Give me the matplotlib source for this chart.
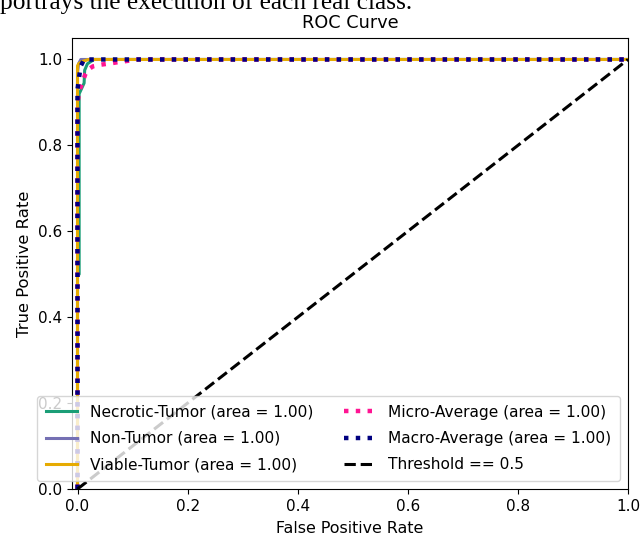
import matplotlib
matplotlib.use("Agg")
import matplotlib.pyplot as plt

# Per-class ROC points (false positive rate, true positive rate)
necrotic_fpr = [0.0, 0.0, 0.003, 0.003, 0.012, 0.013, 0.018, 0.03, 1.0]
necrotic_tpr = [0.0, 0.5, 0.5, 0.92, 0.945, 0.975, 0.99, 1.0, 1.0]

non_tumor_fpr = [0.0, 0.0, 0.002, 0.006, 1.0]
non_tumor_tpr = [0.0, 0.97, 0.99, 1.0, 1.0]

viable_fpr = [0.0, 0.0, 0.002, 0.008, 0.02, 1.0]
viable_tpr = [0.0, 0.985, 0.99, 0.995, 1.0, 1.0]

micro_fpr = [0.0, 0.0, 0.004, 0.009, 0.014, 0.02, 0.028, 0.043, 0.06, 0.075, 0.11, 1.0]
micro_tpr = [0.0, 0.9, 0.93, 0.946, 0.965, 0.977, 0.984, 0.988, 0.991, 0.994, 1.0, 1.0]

macro_fpr = [0.0, 0.0, 0.003, 0.006, 0.012, 1.0]
macro_tpr = [0.0, 0.93, 0.96, 0.985, 1.0, 1.0]

class_names = ["Necrotic-Tumor", "Non-Tumor", "Viable-Tumor"]
class_auc = [1.00, 1.00, 1.00]
micro_auc = 1.00
macro_auc = 1.00
class_colors = ["#1b9e77", "#7570b3", "#e6ab02"]

fig = plt.figure(figsize=(6.41, 5.39), dpi=100)
ax = fig.add_axes([72 / 641, 1 - 489 / 539, 556 / 641, 451 / 539])

fig.text(0.0, 1 - 8.5 / 539, "portrays the execution of each real class.",
         family="Liberation Serif", fontsize=18.3, va="baseline", ha="left")

curves = [(necrotic_fpr, necrotic_tpr), (non_tumor_fpr, non_tumor_tpr),
          (viable_fpr, viable_tpr)]
for (fpr, tpr), name, auc, color in zip(curves, class_names, class_auc, class_colors):
    ax.plot(fpr, tpr, color=color, lw=2.2, label=f"{name} (area = {auc:.2f})")

ax.plot(micro_fpr, micro_tpr, color="deeppink", linestyle=":", lw=3.2,
        label=f"Micro-Average (area = {micro_auc:.2f})")
ax.plot(macro_fpr, macro_tpr, color="navy", linestyle=":", lw=3.2,
        label=f"Macro-Average (area = {macro_auc:.2f})")
ax.plot([0, 1], [0, 1], "k--", lw=2.2, label="Threshold == 0.5")

ax.set_xlim(-0.01, 1.0)
ax.set_ylim(0.0, 1.05)
ax.tick_params(labelsize=11)
ax.set_xlabel("False Positive Rate", fontsize=11.4, labelpad=5)
ax.set_ylabel("True Positive Rate", fontsize=11.8)
ax.set_title("ROC Curve", fontsize=12.7, pad=7)
ax.legend(loc="lower right", ncol=2, fontsize=11.1, labelspacing=0.72,
          borderpad=0.6, handletextpad=0.85)

fig.savefig("out.png", dpi=100)
